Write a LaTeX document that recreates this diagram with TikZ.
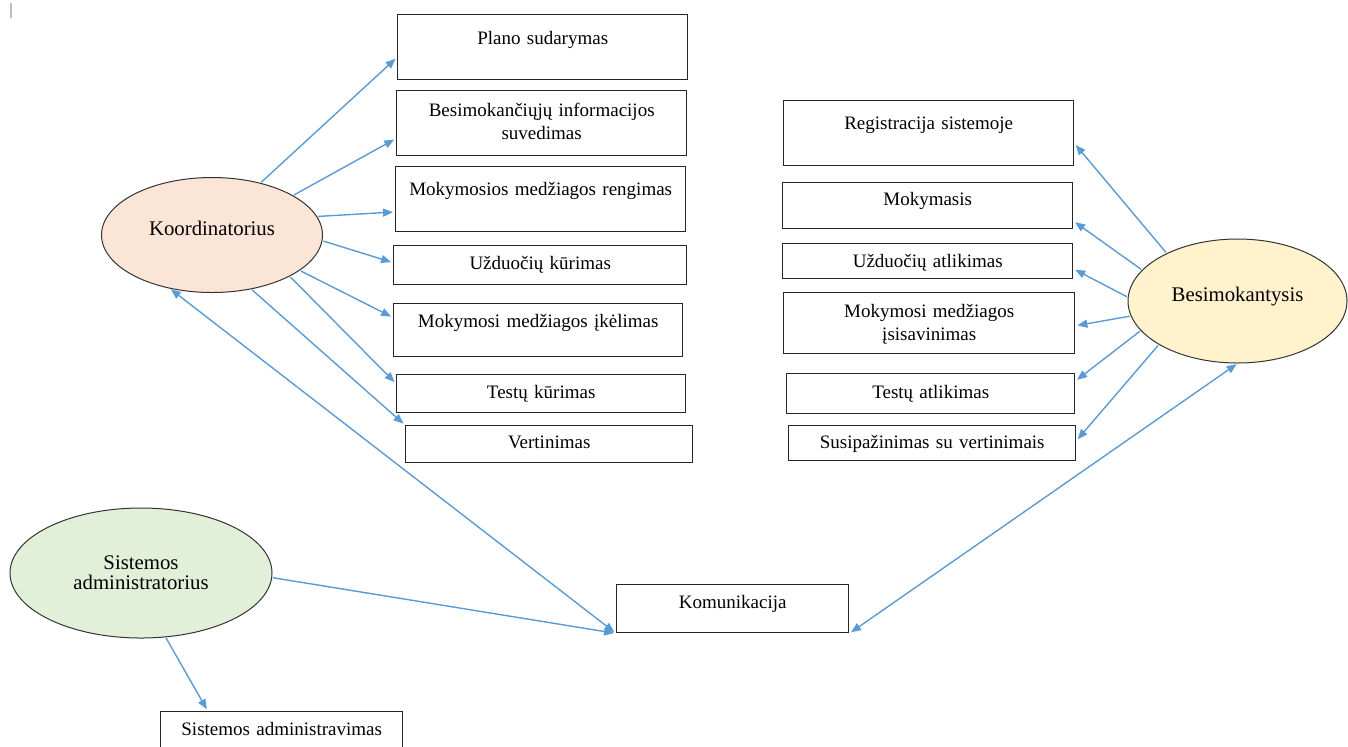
\documentclass[tikz,border=0pt]{standalone}
\usepackage{fontspec}
\setmainfont{Liberation Serif}
\usepackage{tikz}
\usetikzlibrary{shapes.geometric,arrows.meta}

\definecolor{linkblue}{HTML}{5B9BD5}
\definecolor{koordfill}{HTML}{FBE5D6}
\definecolor{besimfill}{HTML}{FFF2CC}
\definecolor{adminfill}{HTML}{E2F0D9}

\tikzset{
  box/.style={draw=black!85, line width=0.7pt, inner sep=0pt, align=center, anchor=north west,
    font=\fontsize{9.5}{11.25}\selectfont},
  actor/.style={ellipse, draw=black!80, line width=0.5pt, inner sep=0pt, align=center,
    font=\fontsize{10.4}{10}\selectfont},
  link/.style={draw=linkblue, line width=0.7pt, shorten >=1pt, shorten <=0.5pt},
}

\begin{document}
\begin{tikzpicture}[x=0.5pt, y=-0.5pt, >={Triangle[length=5pt,width=4pt]}]
    \useasboundingbox (0,0) rectangle (1348,746);
    \clip (0,0) rectangle (1348,746);
    \draw[black!25, line width=1pt] (11,3) -- (11,18);

    % actors
    \node[actor, fill=koordfill, minimum width=110.5pt, minimum height=57.5pt,
      text height=6pt, text depth=6pt] (koord) at (212,235) {Koordinatorius};
    \node[actor, fill=besimfill, minimum width=109.5pt, minimum height=62pt,
      text height=6pt, text depth=6pt] (besim) at (1237.5,301) {Besimokantysis};
    \node[actor, fill=adminfill, minimum width=131pt, minimum height=65pt]
      (sadm) at (141,573) {Sistemos\\administratorius};

    % koordinatoriaus veiklos
    \node[box, text width=145pt, text height=15pt, text depth=17.5pt] (plano) at (397,14) {Plano sudarymas};
    \node[box, text width=145pt, text height=13pt, text depth=19.5pt] (besinfo) at (396,90) {Besimokančiųjų informacijos\\suvedimas};
    \node[box, text width=145pt, text height=14.5pt, text depth=18pt] (mokreng) at (395,166) {Mokymosios medžiagos rengimas};
    \node[box, text width=146.5pt, text height=12pt, text depth=7.5pt] (uzdkur) at (393,245) {Užduočių kūrimas};
    \node[box, text width=144.5pt, text height=12pt, text depth=14.5pt] (ikel) at (393,303) {Mokymosi medžiagos įkėlimas};
    \node[box, text width=144.5pt, text height=12pt, text depth=7pt] (testkur) at (396,374) {Testų kūrimas};
    \node[box, text width=143.5pt, text height=11.5pt, text depth=7pt] (vert) at (405,425) {Vertinimas};

    % besimokanciojo veiklos
    \node[box, text width=145pt, text height=14.5pt, text depth=18pt] (regist) at (783,100) {Registracija sistemoje};
    \node[box, text width=145pt, text height=11.5pt, text depth=11.5pt] (mokym) at (782,182) {Mokymasis};
    \node[box, text width=145pt, text height=12pt, text depth=5.5pt] (uzdatl) at (782,243) {Užduočių atlikimas};
    \node[box, text width=145.5pt, text height=12.5pt, text depth=18pt] (isisav) at (783,292) {Mokymosi medžiagos\\įsisavinimas};
    \node[box, text width=144pt, text height=12.5pt, text depth=7.5pt] (testatl) at (786,373) {Testų atlikimas};
    \node[box, text width=143.5pt, text height=11.5pt, text depth=6pt] (susip) at (788,425) {Susipažinimas su vertinimais};

    \node[box, text width=116pt, text height=12pt, text depth=12pt] (kom) at (616,584) {Komunikacija};
    \node[box, text width=121pt, text height=12pt, text depth=8.5pt] (sadmv) at (160,711) {Sistemos administravimas};

    % rodykles
    \foreach \a/\b/\t in {47/184/plano, 26/186/besinfo, 10/185/mokreng, 357/179/uzdkur, 338/175/ikel, 332/176/testkur}
        \draw[link, ->] (koord.\a) -- (\t.\b);
    \draw[link, ->] (koord.306) -- (vert.north west);

    \foreach \a/\b/\t in {146/356/regist, 162/354/mokym, 178/357/uzdatl, 188/359/isisav, 197/5/testatl, 209/1/susip}
        \draw[link, ->] (besim.\a) -- (\t.\b);

    \draw[link, <->] (koord.232) -- (kom.south west);
    \draw[link, <->] (besim.south) -- (kom.south east);
    \draw[link, ->] (sadm.358) -- (kom.south west);
    \draw[link, ->] (sadm.291) -- (sadmv.164);
\end{tikzpicture}
\end{document}
